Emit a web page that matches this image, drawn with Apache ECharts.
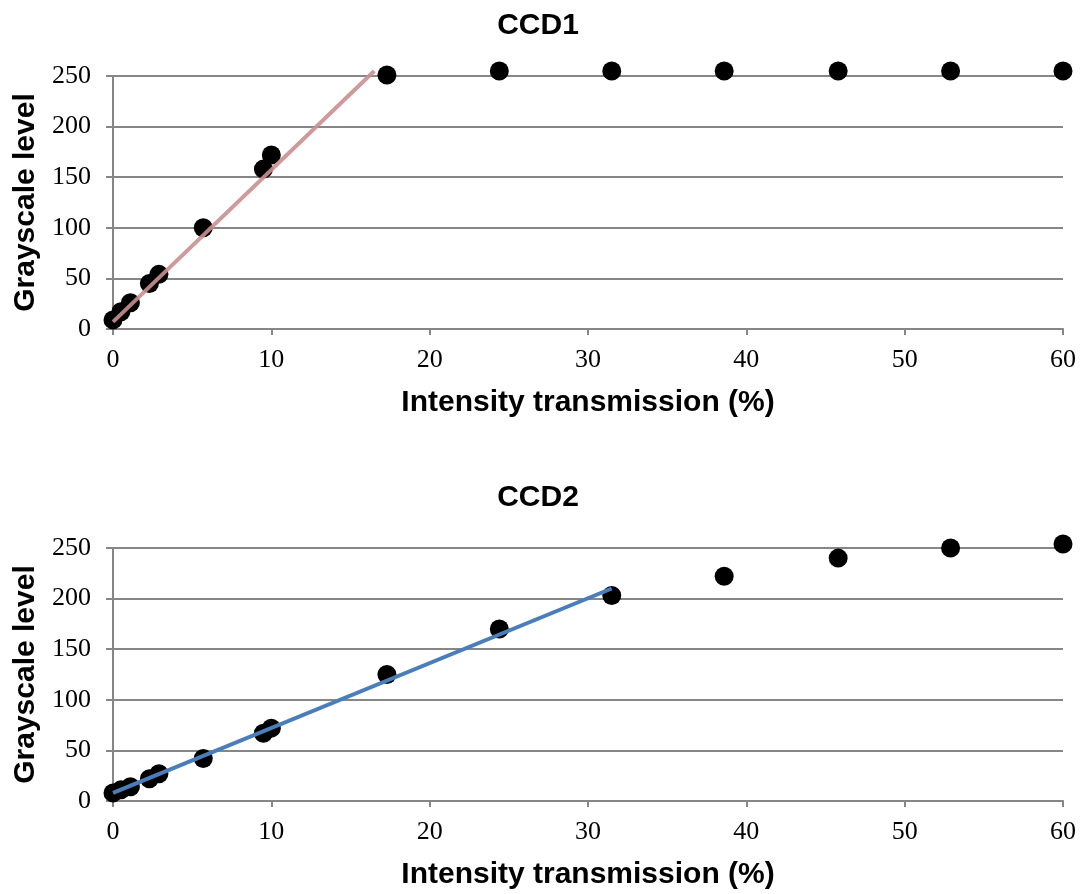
<!DOCTYPE html>
<html>
<head>
<meta charset="utf-8">
<script src="https://cdn.jsdelivr.net/npm/echarts@6/dist/echarts.min.js"></script>
<style>
  html, body { margin: 0; padding: 0; background: #fff; }
  #chart { width: 1084px; height: 894px; }
</style>
</head>
<body>
<div id="chart"></div>
<script>
// Intensity transmission (%) shared by both cameras
const transmission = [0.0, 0.5, 1.1, 2.3, 2.9, 5.7, 9.5, 10.0, 17.3, 24.4, 31.5, 38.6, 45.8, 52.9, 60.0];

// Grayscale readings for each camera
const ccd1Gray = [9, 17, 26, 45, 54, 100, 158, 172, 251, 255, 255, 255, 255, 255, 255];
const ccd2Gray = [8, 11, 14, 22, 27, 42, 67, 72, 125, 170, 203, 222, 240, 250, 254];

// Linear fits over the linear range: [x, y] endpoints
const ccd1FitX = [0.0, 16.5];
const ccd1FitY = [7, 255];
const ccd2FitX = [0.0, 31.5];
const ccd2FitY = [8, 210];

const titles = ['CCD1', 'CCD2'];
const xTicks = [0, 10, 20, 30, 40, 50, 60];
const yTicks = [0, 50, 100, 150, 200, 250];

const zip = (xs, ys) => xs.map((x, i) => [x, ys[i]]);

const chart = echarts.init(document.getElementById('chart'), null, { renderer: 'canvas' });

const axisGray = '#868686';
const serif = '"Liberation Serif", "Times New Roman", serif';
const sans = '"Liberation Sans", Arial, sans-serif';

const grids = [
  { left: 113, right: 21, top: 76, height: 253 },
  { left: 113, right: 21, top: 548, height: 253 }
];

function xAxis(i) {
  return {
    type: 'value', gridIndex: i,
    min: xTicks[0], max: xTicks[xTicks.length - 1], interval: 10,
    name: 'Intensity transmission (%)',
    nameLocation: 'middle', nameGap: 59,
    nameTextStyle: { fontFamily: sans, fontWeight: 'bold', fontSize: 30, color: '#000' },
    axisLine: { lineStyle: { color: axisGray, width: 2 } },
    axisTick: { show: true, length: 6, lineStyle: { color: axisGray, width: 2 } },
    axisLabel: { fontFamily: serif, fontSize: 26, color: '#000', margin: 18 },
    splitLine: { show: false }
  };
}

function yAxis(i) {
  return {
    type: 'value', gridIndex: i,
    min: yTicks[0], max: yTicks[yTicks.length - 1], interval: 50,
    name: 'Grayscale level',
    nameLocation: 'middle', nameGap: 72, nameRotate: 90,
    nameTextStyle: { fontFamily: sans, fontWeight: 'bold', fontSize: 30, color: '#000' },
    axisLine: { show: true, lineStyle: { color: axisGray, width: 2 } },
    axisTick: { show: true, length: 7, lineStyle: { color: axisGray, width: 2 } },
    axisLabel: { fontFamily: serif, fontSize: 26, color: '#000', margin: 22 },
    splitLine: { show: true, lineStyle: { color: axisGray, width: 2 } }
  };
}

const option = {
  animation: false,
  backgroundColor: '#ffffff',
  title: titles.map((t, i) => ({
    text: t, left: 533, textAlign: 'center',
    top: i === 0 ? 6 : 478,
    textStyle: { fontFamily: sans, fontWeight: 'bold', fontSize: 30, color: '#000' }
  })),
  grid: grids,
  xAxis: [xAxis(0), xAxis(1)],
  yAxis: [yAxis(0), yAxis(1)],
  series: [
    {
      type: 'scatter', xAxisIndex: 0, yAxisIndex: 0, clip: false,
      data: zip(transmission, ccd1Gray),
      symbolSize: 19, itemStyle: { color: '#000', opacity: 1 }, z: 2
    },
    {
      type: 'line', xAxisIndex: 0, yAxisIndex: 0, clip: false,
      data: zip(ccd1FitX, ccd1FitY), showSymbol: false,
      lineStyle: { color: '#c98f8f', width: 4, opacity: 0.9 }, z: 3
    },
    {
      type: 'scatter', xAxisIndex: 1, yAxisIndex: 1, clip: false,
      data: zip(transmission, ccd2Gray),
      symbolSize: 19, itemStyle: { color: '#000', opacity: 1 }, z: 2
    },
    {
      type: 'line', xAxisIndex: 1, yAxisIndex: 1, clip: false,
      data: zip(ccd2FitX, ccd2FitY), showSymbol: false,
      lineStyle: { color: '#4a7ebb', width: 4 }, z: 3
    }
  ]
};

chart.setOption(option);
</script>
</body>
</html>
